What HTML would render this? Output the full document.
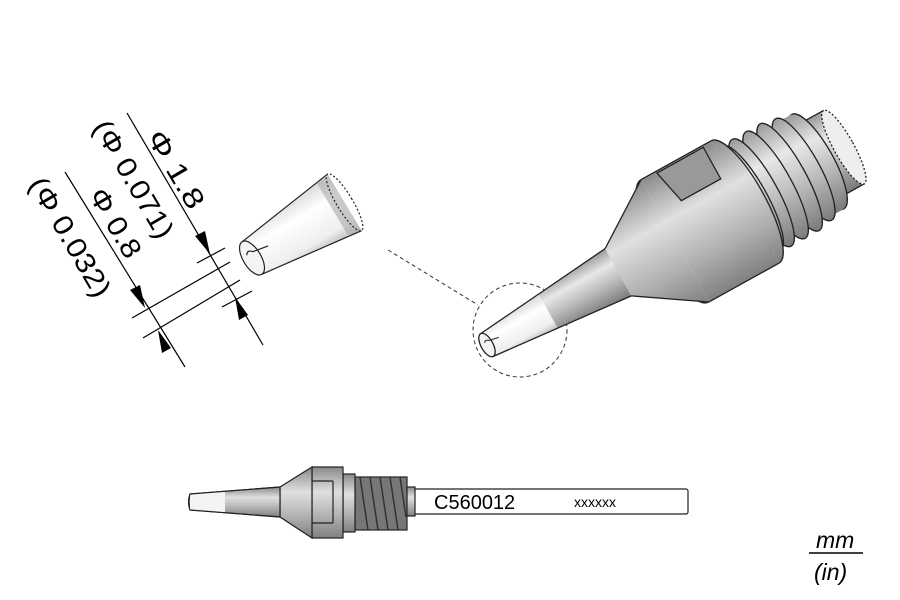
<!DOCTYPE html>
<html><head><meta charset="utf-8"><style>html,body{margin:0;padding:0;background:#fff}svg{display:block}</style></head>
<body>
<svg width="900" height="600" viewBox="0 0 900 600" xmlns="http://www.w3.org/2000/svg" font-family="Liberation Sans, sans-serif">
<defs>
<linearGradient id="cyl" x1="0" y1="0" x2="0" y2="1">
<stop offset="0" stop-color="#9a9a9a"/><stop offset="0.3" stop-color="#e8e8e8"/><stop offset="0.6" stop-color="#bdbdbd"/><stop offset="1" stop-color="#7a7a7a"/></linearGradient>
<linearGradient id="wht" x1="0" y1="0" x2="0" y2="1">
<stop offset="0" stop-color="#d8d8d8"/><stop offset="0.35" stop-color="#ffffff"/><stop offset="0.8" stop-color="#eeeeee"/><stop offset="1" stop-color="#bbbbbb"/></linearGradient>
<linearGradient id="bv" x1="0" y1="0" x2="0" y2="1">
<stop offset="0" stop-color="#8a8a8a"/><stop offset="0.35" stop-color="#e0e0e0"/><stop offset="0.7" stop-color="#b0b0b0"/><stop offset="1" stop-color="#808080"/></linearGradient>
</defs>

<g stroke="#000" stroke-width="1.2" fill="none">
<line x1="127" y1="113" x2="263" y2="345"/>
<line x1="65" y1="172" x2="185" y2="367"/>
<line x1="197" y1="263" x2="225" y2="248"/>
<line x1="132" y1="318" x2="230" y2="262"/>
<line x1="143" y1="338" x2="240" y2="280"/>
<line x1="222" y1="307" x2="252" y2="291"/>
</g>
<g fill="#000">
<polygon points="210,254 195,236 205,231"/>
<polygon points="235,297 248,315 239,320"/>
<polygon points="145,308 130,290 140,285"/>
<polygon points="158,330 171,348 162,353"/>
</g>
<g font-size="28" fill="#000">
<text transform="translate(146,137) rotate(59.6)" textLength="86" lengthAdjust="spacingAndGlyphs">Φ 1.8</text>
<text transform="translate(92,127) rotate(59.6)" textLength="132" lengthAdjust="spacingAndGlyphs">(Φ 0.071)</text>
<text transform="translate(88,195) rotate(59.6)" textLength="76" lengthAdjust="spacingAndGlyphs">Φ 0.8</text>
<text transform="translate(28,184) rotate(59.6)" textLength="134" lengthAdjust="spacingAndGlyphs">(Φ 0.032)</text>
</g>

<g transform="translate(252,258) rotate(-31)" stroke="#222" stroke-width="1.2">
<polygon points="0,-19 108,-33 108,33 0,19" fill="url(#wht)" stroke="none"/>
<line x1="0" y1="-19" x2="108" y2="-33"/>
<line x1="0" y1="19" x2="108" y2="33"/>
<rect x="94" y="-31" width="14" height="62" fill="#aaa" stroke="none" opacity="0.6"/>
<ellipse cx="108" cy="0" rx="8" ry="33" fill="none" stroke-dasharray="2,2"/>
<ellipse cx="0" cy="0" rx="9" ry="19" fill="#f4f4f4"/>
<path d="M-3,-5 q3,-5 7,0 l16,3" fill="none"/>
</g>

<line x1="388" y1="250" x2="478" y2="305" stroke="#333" stroke-dasharray="4,3"/>
<circle cx="520" cy="330" r="47" fill="none" stroke="#333" stroke-dasharray="4,3"/>

<g transform="translate(487,345) rotate(-29)" stroke="#222" stroke-width="1.3">
<polygon points="370,-42 408,-42 408,42 370,42" fill="url(#cyl)"/>
<ellipse cx="408" cy="0" rx="10" ry="42" fill="#eee" stroke-dasharray="2,2"/>
<g fill="url(#cyl)">
<ellipse cx="378" cy="0" rx="16" ry="54"/>
<polygon points="362,-54 378,-54 378,54 362,54" stroke="none"/>
<ellipse cx="362" cy="0" rx="16" ry="58"/>
<ellipse cx="346" cy="0" rx="16" ry="61"/>
<ellipse cx="330" cy="0" rx="16" ry="61"/>
<ellipse cx="314" cy="0" rx="16" ry="61"/>
<ellipse cx="302" cy="0" rx="16" ry="60"/>
</g>
<polygon points="215,-70 295,-70 295,70 215,70" fill="url(#bv)" stroke="none"/>
<line x1="215" y1="-70" x2="295" y2="-70"/>
<line x1="215" y1="70" x2="295" y2="70"/>
<path d="M295,-70 A20,70 0 0 1 295,70" fill="url(#bv)"/>
<polygon points="232,-68 285,-68 285,-32 240,-32" fill="#999" stroke="#222"/>
<path d="M215,-70 A22,70 0 0 0 215,70" fill="none"/>
<polygon points="150,-27 215,-70 215,70 150,27" fill="url(#bv)" stroke="none"/>
<line x1="150" y1="-27" x2="215" y2="-70"/>
<line x1="150" y1="27" x2="215" y2="70"/>
<path d="M150,-27 A9,27 0 0 0 150,27" fill="none"/>
<polygon points="0,-13 150,-27 150,27 0,13" fill="url(#cyl)" stroke="none"/>
<polygon points="0,-13 70,-20 70,20 0,13" fill="url(#wht)" stroke="none"/>
<line x1="0" y1="-13" x2="150" y2="-27"/>
<line x1="0" y1="13" x2="150" y2="27"/>
<ellipse cx="0" cy="0" rx="6" ry="13" fill="#f4f4f4"/>
<path d="M-1,-3 q2,-3 5,0 l10,2" fill="none" stroke-width="1"/>
</g>

<g stroke="#222" stroke-width="1.2">
<rect x="413" y="489" width="275" height="25" rx="2" fill="#fff"/>
<rect x="405" y="487" width="10" height="29" fill="url(#bv)"/>
<rect x="355" y="477" width="52" height="53" fill="#777"/>
<g stroke="#333" stroke-width="1.5">
<path d="M360,477 l8,53 M370,477 l8,53 M380,477 l8,53 M390,477 l8,53 M400,477 l6,40"/>
</g>
<rect x="343" y="474" width="12" height="58" fill="url(#bv)"/>
<rect x="312" y="467" width="31" height="71" fill="url(#bv)"/>
<path d="M333,481 L312,481 Q300,502 312,523 L333,523" fill="none"/>
<line x1="333" y1="481" x2="333" y2="523"/>
<polygon points="280,487 312,467 312,538 280,517" fill="url(#bv)"/>
<polygon points="190,494 280,487 280,517 190,510" fill="url(#bv)"/>
<polygon points="190,494 225,491 225,513 190,510" fill="#f4f4f4" stroke="none"/>
<path d="M190,494 L280,487 M190,510 L280,517 M190,494 Q187,502 190,510" fill="none"/>
</g>
<text x="434" y="509" font-size="20" fill="#000">C560012</text>
<text x="574" y="507" font-size="14" fill="#000">xxxxxx</text>

<text x="816" y="548" font-size="23" font-style="italic" fill="#000">mm</text>
<line x1="809" y1="553" x2="863" y2="553" stroke="#000" stroke-width="1.5"/>
<text x="814" y="580" font-size="23" font-style="italic" fill="#000">(in)</text>
</svg>
</body></html>
